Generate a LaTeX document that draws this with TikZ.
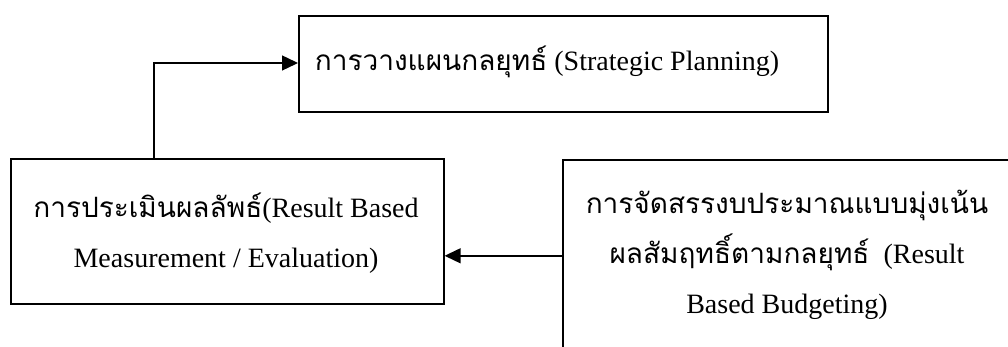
\documentclass[tikz,border=0pt]{standalone}
\usepackage{fontspec}
\setmainfont{Liberation Serif}
\newfontfamily\thaifont[Script=Thai]{Loma}
\newcommand{\thtxt}[1]{{\thaifont #1}}
\usetikzlibrary{arrows.meta}
\begin{document}
\begin{tikzpicture}[x=1pt,y=-1pt,
  box/.style={draw=black,line width=1.6pt,inner sep=0pt,anchor=north west},
  txt/.style={align=center,inner sep=0pt,font=\fontsize{28}{50}\selectfont},
  conn/.style={line width=1.4pt,-{Triangle[length=16pt,width=15pt]}}]
\useasboundingbox (0,0) rectangle (1008,347);
\clip (0,0) rectangle (1008,347);
\node[box,minimum width=529pt,minimum height=96pt] (plan) at (298,15) {};
\node[txt] (plant) at (547,62) {\thtxt{การวางแผนกลยุทธ์} (Strategic Planning)};
\node[box,minimum width=433pt,minimum height=145pt] (eval) at (10,158) {};
\node[txt] (evalt) at (226,233) {\thtxt{การประเมินผลลัพธ์}(Result Based\\Measurement / Evaluation)};
\node[box,minimum width=450pt,minimum height=192pt] (budg) at (562,159) {};
\node[txt] (budgt) at (787,255) {\thtxt{การจัดสรรงบประมาณแบบมุ่งเน้น}\\\thtxt{ผลสัมฤทธิ์ตามกลยุทธ์}~ (Result\\Based Budgeting)};
\coordinate (c1) at (154,63);
\draw[conn] (eval.north west -| c1) -- (c1) -- (c1 -| plan.west);
\draw[conn] (budg.west) -- (budg.west -| eval.east);
\end{tikzpicture}
\end{document}
